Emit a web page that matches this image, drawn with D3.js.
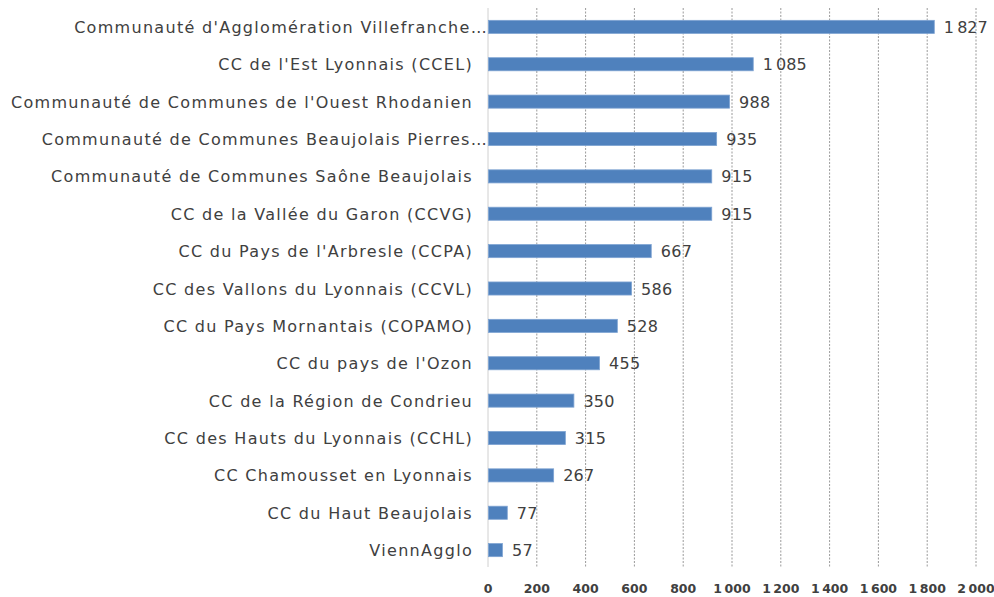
<!DOCTYPE html>
<html>
<head>
<meta charset="utf-8">
<script src="https://cdn.jsdelivr.net/npm/d3@7"></script>
<style>
  body { margin: 0; background: #fff; }
  svg { font-family: "DejaVu Sans", sans-serif; }
</style>
</head>
<body>
<svg id="chart" width="994" height="597"></svg>
<script>
// categories, top to bottom
const categories = [
  "Communauté d'Agglomération Villefranche…",
  "CC de l'Est Lyonnais (CCEL)",
  "Communauté de Communes de l'Ouest Rhodanien",
  "Communauté de Communes Beaujolais Pierres…",
  "Communauté de Communes Saône Beaujolais",
  "CC de la Vallée du Garon (CCVG)",
  "CC du Pays de l'Arbresle (CCPA)",
  "CC des Vallons du Lyonnais (CCVL)",
  "CC du Pays Mornantais (COPAMO)",
  "CC du pays de l'Ozon",
  "CC de la Région de Condrieu",
  "CC des Hauts du Lyonnais (CCHL)",
  "CC Chamousset en Lyonnais",
  "CC du Haut Beaujolais",
  "ViennAgglo"
];
const values = [1827, 1085, 988, 935, 915, 915, 667, 586, 528, 455, 350, 315, 267, 77, 57];
const xTicks = [0, 200, 400, 600, 800, 1000, 1200, 1400, 1600, 1800, 2000];

const fmt = v => d3.format(",")(v).replace(/,/g, "\u202F");

const svg = d3.select("#chart");
const m = { left: 488, right: 976, top: 8, bottom: 569 };

const x = d3.scaleLinear().domain([0, 2000]).range([m.left, m.right]);
const y = d3.scaleBand().domain(categories).range([m.top, m.bottom]).paddingInner(0.65).paddingOuter(0.33);

// gridlines
svg.append("g")
  .selectAll("line")
  .data(xTicks.slice(1))
  .join("line")
  .attr("x1", d => x(d)).attr("x2", d => x(d))
  .attr("y1", m.top).attr("y2", m.bottom - 2)
  .attr("stroke", "#9a9a9a")
  .attr("stroke-width", 1)
  .attr("stroke-dasharray", "2,1.5");

// axis line at 0
svg.append("line")
  .attr("x1", x(0)).attr("x2", x(0))
  .attr("y1", m.top).attr("y2", m.bottom - 2)
  .attr("stroke", "#d0d0d0");

// bars
svg.append("g")
  .selectAll("rect")
  .data(values)
  .join("rect")
  .attr("x", x(0) + 0.5)
  .attr("y", (d, i) => y(categories[i]))
  .attr("width", d => x(d) - x(0))
  .attr("height", y.bandwidth())
  .attr("fill", "#4f81bd")
  .attr("stroke", "#7ea3d2")
  .attr("stroke-width", 0.8);

// value labels
svg.append("g")
  .selectAll("text")
  .data(values)
  .join("text")
  .attr("x", d => x(d) + 10)
  .attr("y", (d, i) => y(categories[i]) + y.bandwidth() / 2 + 6)
  .attr("font-size", 16)
  .attr("letter-spacing", 0.3)
  .attr("fill", "#404040")
  .text(d => fmt(d));

// category labels
svg.append("g")
  .selectAll("text")
  .data(categories)
  .join("text")
  .attr("x", d => d.endsWith("…") ? 488 : 473)
  .attr("y", d => y(d) + y.bandwidth() / 2 + 6)
  .attr("text-anchor", "end")
  .attr("font-size", 16)
  .attr("letter-spacing", 1.3)
  .attr("fill", "#404040")
  .text(d => d);

// x axis tick labels
svg.append("g")
  .selectAll("text")
  .data(xTicks)
  .join("text")
  .attr("x", d => x(d))
  .attr("y", 593)
  .attr("text-anchor", "middle")
  .attr("font-size", 12.5)
  .attr("font-weight", "bold")
  .attr("fill", "#404040")
  .text(d => fmt(d));
</script>
</body>
</html>
